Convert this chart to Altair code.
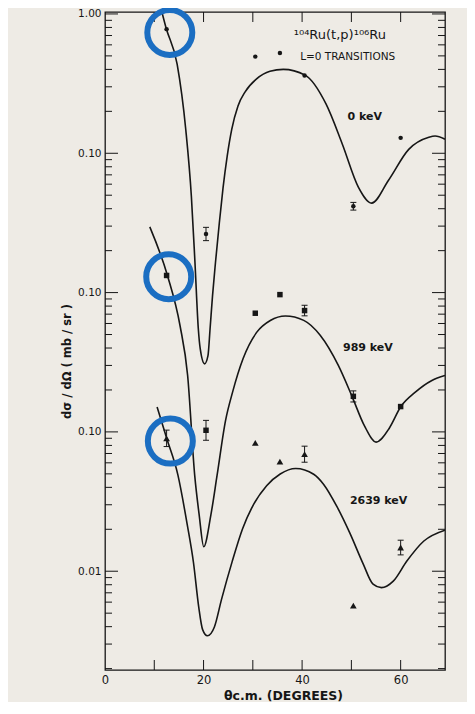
import altair as alt
import pandas as pd

FONT = "DejaVu Sans"
INK = "#161616"

# ---------------- data ----------------
# true cross sections (mb/sr); each group is drawn shifted down by a factor
series_names = ["0 keV", "989 keV", "2639 keV"]
display_factor = {"0 keV": 1.0, "989 keV": 0.1, "2639 keV": 0.01}

# measured points
pt_angle_0 = [12.5, 20.5, 30.5, 35.5, 40.5, 50.4, 60.0]
pt_sigma_0 = [0.778, 0.0263, 0.494, 0.525, 0.362, 0.0417, 0.129]

pt_angle_989 = [12.5, 20.5, 30.5, 35.5, 40.5, 50.4, 60.0]
pt_sigma_989 = [0.1327, 0.01027, 0.0711, 0.0967, 0.0743, 0.0180, 0.0152]

pt_angle_2639 = [12.5, 30.5, 35.5, 40.5, 50.4, 60.0]
pt_sigma_2639 = [0.0899, 0.0835, 0.0611, 0.0692, 0.00566, 0.0148]

# error bars (series, angle, low, high)
err_series = ["0 keV", "0 keV", "989 keV", "989 keV", "989 keV", "2639 keV", "2639 keV", "2639 keV"]
err_angle = [20.5, 50.4, 20.5, 40.5, 50.4, 12.5, 40.5, 60.0]
err_low = [0.0236, 0.0391, 0.00871, 0.0681, 0.0164, 0.0785, 0.0606, 0.0131]
err_high = [0.0294, 0.0444, 0.0121, 0.0811, 0.0197, 0.1030, 0.0790, 0.0167]

# theoretical curves
cv_angle_0 = [11.44, 12.40, 14.64, 16.40, 17.53, 18.26, 18.94, 19.33, 20.21, 20.90, 21.32,
              21.82, 22.42, 23.20, 23.95, 24.80, 25.72, 26.99, 28.44, 30.76, 33.48, 36.18,
              40.60, 44.85, 48.15, 51.44, 54.11, 57.54, 61.64, 65.72, 67.0, 69.0]
cv_sigma_0 = [1.067, 0.792, 0.436, 0.147, 0.0490, 0.01637, 0.00548, 0.00394, 0.00308, 0.00353,
              0.00548, 0.00948, 0.01644, 0.0316, 0.0562, 0.0955, 0.1486, 0.2188, 0.2761, 0.3420,
              0.3882, 0.3999, 0.3639, 0.2259, 0.1167, 0.0570, 0.0439, 0.0641, 0.1067, 0.1303,
              0.1330, 0.1262]

cv_angle_989 = [9.09, 12.67, 15.23, 16.77, 18.20, 19.11, 20.04, 21.48, 22.75, 24.47, 25.89,
                28.01, 30.81, 33.55, 36.62, 40.33, 43.67, 47.35, 50.13, 52.66, 55.02, 57.75,
                60.04, 62.91, 66.34, 69.0]
cv_sigma_989 = [0.2965, 0.1327, 0.0578, 0.0254, 0.00490, 0.00254, 0.00150, 0.00253, 0.00489,
                0.0121, 0.0193, 0.0335, 0.0520, 0.0631, 0.0679, 0.0632, 0.0494, 0.0300, 0.0180,
                0.01104, 0.00845, 0.01072, 0.0152, 0.0192, 0.0234, 0.0254]

cv_angle_2639 = [10.57, 12.52, 14.79, 16.69, 17.96, 19.01, 19.81, 20.78, 22.20, 23.66, 25.79,
                 27.92, 30.03, 32.80, 35.56, 38.70, 42.35, 44.38, 47.05, 49.72, 52.39, 54.40,
                 56.09, 58.50, 61.26, 64.71, 69.0]
cv_sigma_2639 = [0.1510, 0.0899, 0.0491, 0.0216, 0.0115, 0.00557, 0.00381, 0.00344, 0.00398,
                 0.00631, 0.01167, 0.0202, 0.0296, 0.0411, 0.0499, 0.0546, 0.0497, 0.0420,
                 0.0292, 0.0187, 0.01130, 0.00807, 0.00762, 0.00849, 0.01183, 0.01648, 0.01972]

# annotation texts (in plotted coordinates)
note_text = ["\u00b9\u2070\u2074Ru(t,p)\u00b9\u2070\u2076Ru", "L=0 TRANSITIONS"]
note_angle = [38.3, 39.6]
note_value = [0.711, 0.488]
note_size = [13, 10.5]

level_text = ["0 keV", "989 keV", "2639 keV"]
level_angle = [49.2, 48.3, 49.7]
level_value = [0.183, 0.00398, 0.000317]

# blue circle highlights (plotted coordinates)
ring_angle = [13.15, 12.93, 13.26]
ring_value = [0.736, 0.0130, 0.000859]

# axis tick values / labels
X_MIN, X_MAX = 0, 69
Y_LO, Y_HI = 10 ** -4.709, 10 ** 0.014
y_major = [1.0, 0.1, 0.01, 0.001, 0.0001]
x_labels = [0, 20, 40, 60]
x_ticks = [10, 20, 30, 40, 50, 60]
y_minor = [m * 10.0 ** e for e in range(0, -6, -1) for m in range(2, 10)
           if Y_LO <= m * 10.0 ** e <= Y_HI]

W, H = 340, 658
PX_PER_DEG = W / (X_MAX - X_MIN)
PX_PER_DEC = H / 4.723

# ---------------- tables ----------------
curve_rows = []
for name, a, s in [("0 keV", cv_angle_0, cv_sigma_0),
                   ("989 keV", cv_angle_989, cv_sigma_989),
                   ("2639 keV", cv_angle_2639, cv_sigma_2639)]:
    for ai, si in zip(a, s):
        curve_rows.append({"series": name, "deg": ai, "y": si * display_factor[name]})
curves_df = pd.DataFrame(curve_rows)

def pts(name, a, s):
    return pd.DataFrame({"series": name, "deg": a,
                         "y": [v * display_factor[name] for v in s]})

p0 = pts("0 keV", pt_angle_0, pt_sigma_0)
p989 = pts("989 keV", pt_angle_989, pt_sigma_989)
p2639 = pts("2639 keV", pt_angle_2639, pt_sigma_2639)

err_df = pd.DataFrame({
    "deg": err_angle,
    "lo": [l * display_factor[s] for l, s in zip(err_low, err_series)],
    "hi": [h * display_factor[s] for h, s in zip(err_high, err_series)],
})

notes_df = pd.DataFrame({"deg": note_angle, "y": note_value, "text": note_text, "fs": note_size})
levels_df = pd.DataFrame({"deg": level_angle, "y": level_value, "text": level_text})
rings_df = pd.DataFrame({"deg": ring_angle, "y": ring_value})

# inward frame ticks: start on the frame edge, end a few pixels inside
ytick_rows = []
for vals, edge, px, d in [(y_major, X_MIN, 13, 1), (y_minor, X_MIN, 7, 1),
                          (y_major, X_MAX, 13, -1), (y_minor, X_MAX, 7, -1)]:
    for v in vals:
        ytick_rows.append({"deg": edge, "deg_end": edge + d * px / PX_PER_DEG, "y": v})
ytick_df = pd.DataFrame(ytick_rows)

xtick_rows = []
for edge, d in [(Y_LO, 1), (Y_HI, -1)]:
    for v in x_ticks:
        xtick_rows.append({"deg": v, "y": edge, "y_end": edge * 10 ** (d * 10 / PX_PER_DEC)})
xtick_df = pd.DataFrame(xtick_rows)

# ---------------- scales / axes ----------------
xscale = alt.Scale(domain=[X_MIN, X_MAX], nice=False, zero=False)
yscale = alt.Scale(type="log", domain=[Y_LO, Y_HI], nice=False)

ax_x_labels = alt.Axis(orient="bottom", values=x_labels, ticks=False, domain=False,
                       grid=False, labelFlush=False, labelPadding=4, labelFont=FONT,
                       labelFontSize=11.5, labelColor=INK,
                       title="\u03b8c.m. (DEGREES)", titleFont=FONT, titleFontSize=12.5,
                       titleFontWeight="bold", titleColor=INK, titleX=178, titleY=29,
                       titleAlign="center", titleBaseline="alphabetic")
ax_y_labels = alt.Axis(orient="left", values=y_major, ticks=False, domain=False, grid=False,
                       labelFlush=False, labelPadding=4, labelFont=FONT, labelFontSize=10.5,
                       labelColor=INK,
                       labelExpr="datum.value > 0.5 ? '1.00' : (datum.value < 0.0005 ? '0.01' : '0.10')",
                       title="d\u03c3 / d\u03a9  ( mb / sr )", titleFont=FONT, titleFontSize=11.5,
                       titleFontWeight="bold", titleColor=INK, titleAngle=270,
                       titleX=-38, titleY=349, titleAlign="center", titleBaseline="middle")

# every layer shares the same scales and the same (merged) axes
X = lambda f="deg": alt.X(f"{f}:Q", scale=xscale, axis=ax_x_labels)
Y = lambda f="y": alt.Y(f"{f}:Q", scale=yscale, axis=ax_y_labels)

# ---------------- layers ----------------
curves = alt.Chart(curves_df).mark_line(
    color=INK, strokeWidth=1.6, clip=True, interpolate="monotone"
).encode(x=X(), y=Y(), detail="series:N")

yticks = alt.Chart(ytick_df).mark_rule(color=INK, strokeWidth=1).encode(
    x=X("deg"), x2="deg_end:Q", y=Y("y"))
xticks = alt.Chart(xtick_df).mark_rule(color=INK, strokeWidth=1).encode(
    x=X("deg"), y=Y("y"), y2="y_end:Q")

errs = alt.Chart(err_df).mark_rule(color=INK, strokeWidth=1).encode(
    x=X(), y=Y("lo"), y2="hi:Q",
)

caps = alt.Chart(err_df).transform_fold(["lo", "hi"], as_=["end", "yv"]).mark_tick(
    color=INK, orient="horizontal", size=6, thickness=1, opacity=1
).encode(x=X(), y=Y("yv"))

pts0 = alt.Chart(p0).mark_point(shape="circle", filled=True, size=20, color=INK, opacity=1).encode(
    x=X(), y=Y())
pts989 = alt.Chart(p989).mark_point(shape="square", filled=True, size=30, color=INK, opacity=1).encode(
    x=X(), y=Y())
pts2639 = alt.Chart(p2639).mark_point(shape="triangle-up", filled=True, size=45, color=INK, opacity=1).encode(
    x=X(), y=Y())

notes = alt.Chart(notes_df).mark_text(
    align="left", baseline="middle", font=FONT, color=INK
).encode(
    x=X(), y=Y(), text="text:N",
    size=alt.Size("fs:Q", scale=None, legend=None),
)

levels = alt.Chart(levels_df).mark_text(
    align="left", baseline="middle", font=FONT, fontSize=11, fontWeight="bold", color=INK
).encode(x=X(), y=Y(), text="text:N")

rings = alt.Chart(rings_df).mark_point(
    shape="circle", filled=False, size=2025, stroke="#1b6ec2", strokeWidth=6, opacity=1
).encode(x=X(), y=Y())

chart = alt.layer(
    curves, yticks, xticks, errs, caps, pts0, pts989, pts2639, notes, levels, rings
).properties(
    width=W, height=H,
    padding={"left": 97, "top": 4, "right": 22, "bottom": 32},
    autosize=alt.AutoSizeParams(type="none"),
).configure(
    background="#eeebe5"
).configure_view(
    stroke=INK, strokeWidth=1.3
)

chart.save("out.html", embed_options={"renderer": "svg", "actions": False})
